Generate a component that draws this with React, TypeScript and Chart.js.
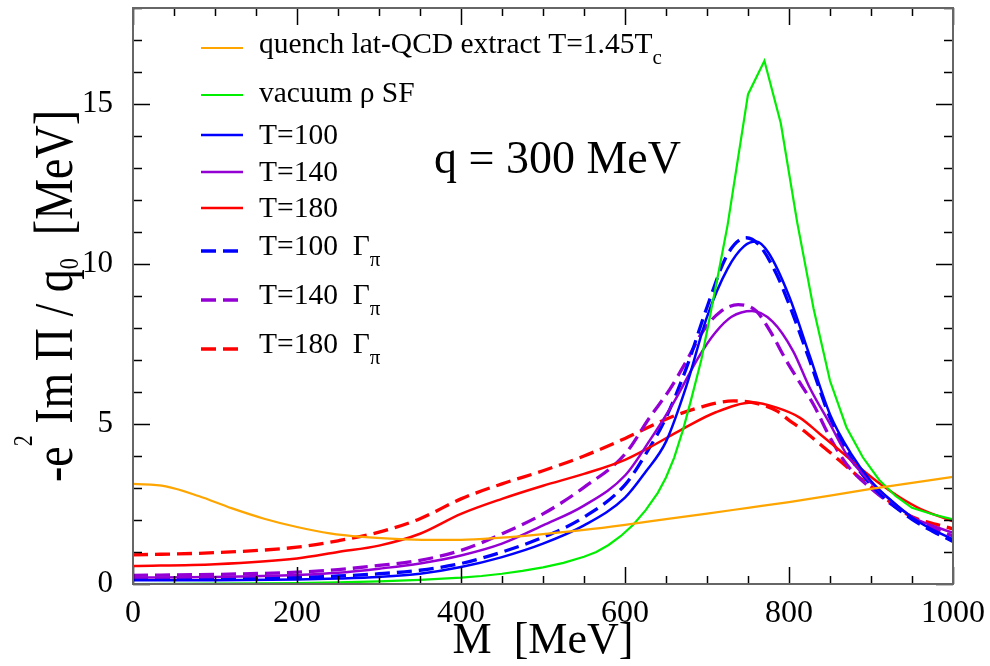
import React, { useEffect, useRef } from "react";
import { Chart, registerables } from "chart.js";

Chart.register(...registerables);

const SERIF = '"Liberation Serif", "Times New Roman", Times, serif';

// ---- data (M in MeV, value in MeV) ----
const mQuench = [0, 40, 80, 120, 160, 200, 240, 280, 320, 360, 400, 450, 500, 550, 600, 650, 700, 750, 800, 850, 900, 950, 1000];
const vQuench = [3.13, 3.05, 2.75, 2.37, 2.04, 1.78, 1.58, 1.47, 1.41, 1.38, 1.38, 1.45, 1.56, 1.69, 1.85, 2.03, 2.2, 2.38, 2.56, 2.76, 2.97, 3.16, 3.35];

const mVac = [0, 100, 200, 250, 300, 350, 400, 425, 450, 475, 500, 525, 550, 565, 580, 595, 610, 625, 640, 650, 660, 671, 680, 693, 700, 712, 725, 750, 770, 790, 810, 830, 850, 870, 890, 910, 930, 950, 975, 1000];
const vVac = [0, 0.01, 0.03, 0.05, 0.08, 0.13, 0.2, 0.25, 0.32, 0.41, 0.52, 0.66, 0.85, 1.0, 1.22, 1.5, 1.85, 2.3, 2.85, 3.33, 3.95, 4.84, 5.7, 7.0, 7.9, 9.46, 11.2, 15.3, 16.35, 14.4, 11.3, 8.6, 6.35, 4.9, 3.96, 3.25, 2.75, 2.38, 2.18, 2.02];

const m100 = [0, 100, 200, 250, 300, 350, 400, 450, 500, 550, 600, 625, 650, 675, 700, 725, 745, 760, 775, 800, 825, 850, 875, 900, 925, 950, 975, 1000];
const v100 = [0.12, 0.12, 0.14, 0.17, 0.22, 0.32, 0.53, 0.84, 1.26, 1.83, 2.7, 3.5, 4.45, 6.2, 8.35, 9.85, 10.55, 10.7, 10.35, 9.0, 7.15, 5.3, 4.1, 3.22, 2.6, 2.08, 1.7, 1.4];

const m140 = [0, 100, 200, 250, 300, 350, 400, 450, 500, 550, 600, 630, 660, 690, 710, 730, 755, 780, 805, 825, 850, 870, 895, 920, 950, 975, 1000];
const v140 = [0.2, 0.22, 0.28, 0.35, 0.48, 0.64, 0.89, 1.26, 1.83, 2.45, 3.39, 4.48, 5.7, 7.1, 7.85, 8.35, 8.53, 8.2, 7.28, 6.15, 5.0, 4.06, 3.3, 2.7, 2.1, 1.82, 1.6];

const m180 = [0, 100, 200, 250, 300, 350, 400, 450, 500, 550, 600, 630, 670, 710, 756, 785, 813, 838, 862, 886, 911, 935, 960, 1000];
const v180 = [0.56, 0.62, 0.8, 1.0, 1.2, 1.57, 2.19, 2.66, 3.07, 3.44, 3.88, 4.27, 4.84, 5.36, 5.67, 5.51, 5.2, 4.68, 4.17, 3.64, 3.13, 2.71, 2.35, 1.96];

const m100G = [0, 100, 200, 250, 300, 350, 400, 450, 500, 550, 600, 625, 650, 675, 700, 725, 748, 765, 785, 800, 825, 850, 875, 900, 925, 950, 975, 1000];
const v100G = [0.17, 0.18, 0.21, 0.25, 0.32, 0.43, 0.64, 1.0, 1.46, 2.09, 3.1, 4.05, 5.2, 6.76, 8.65, 10.3, 10.82, 10.55, 9.67, 8.75, 7.0, 5.2, 3.95, 3.1, 2.5, 2.02, 1.65, 1.33];

const m140G = [0, 100, 200, 250, 300, 350, 400, 450, 500, 550, 600, 630, 655, 675, 695, 716, 738, 760, 777, 797, 813, 830, 850, 870, 903, 943, 975, 1000];
const v140G = [0.27, 0.3, 0.37, 0.45, 0.58, 0.74, 1.05, 1.57, 2.19, 3.02, 4.06, 5.2, 6.1, 6.97, 7.9, 8.5, 8.73, 8.53, 7.9, 6.97, 6.3, 5.6, 4.58, 3.75, 2.92, 2.19, 1.75, 1.5];

const m180G = [0, 100, 200, 250, 300, 350, 400, 450, 500, 550, 600, 650, 690, 732, 756, 785, 801, 813, 838, 862, 886, 911, 943, 1000];
const v180G = [0.91, 0.98, 1.15, 1.35, 1.62, 2.04, 2.66, 3.13, 3.54, 4.0, 4.55, 5.15, 5.51, 5.72, 5.67, 5.41, 5.1, 4.89, 4.37, 3.85, 3.33, 2.82, 2.19, 1.72];

const xTicks = [0, 200, 400, 600, 800, 1000];
const yTicks = [0, 5, 10, 15];

// legend labels: main text + optional subscript
const seriesNames = ["quench lat-QCD extract T=1.45T", "vacuum ρ SF", "T=100", "T=140", "T=180", "T=100  Γ", "T=140  Γ", "T=180  Γ"];
const seriesSubs = ["c", "", "", "", "", "π", "π", "π"];

const annotationText = "q = 300 MeV";
const xTitle = "M  [MeV]";
const yTitleParts = [
  { t: "-e", m: "" },
  { t: "2", m: "sup" },
  { t: " Im Π / q", m: "" },
  { t: "0", m: "sub" },
  { t: "  [MeV]", m: "" },
];

// ---- styles ----
const seriesM = [mQuench, mVac, m100, m140, m180, m100G, m140G, m180G];
const seriesV = [vQuench, vVac, v100, v140, v180, v100G, v140G, v180G];
const seriesColors = ["#ffa500", "#00ee00", "#0000ff", "#9400d3", "#ff0000", "#0000ff", "#9400d3", "#ff0000"];
const seriesDash: number[][] = [[], [], [], [], [], [15, 7], [15, 7], [15, 7]];
const seriesWidth = [2.2, 2.2, 2.5, 2.5, 2.5, 3.3, 3.3, 3.3];
const seriesSmooth = [true, false, true, true, true, true, true, true];

// legend layout (offsets from chart area top)
const LEG_LINE_X0 = 68;
const LEG_LINE_X1 = 110;
const LEG_TEXT_X = 126;
const LEG_LINE_DY = [40, 87, 127, 164, 200, 243, 292, 341];
const LEG_TEXT_DY = [45, 94, 136, 173, 209, 247, 296, 345];

function drawParts(ctx: CanvasRenderingContext2D, x: number, y: number, parts: { t: string; m: string }[], size: number, smallSize: number, subDy: number, supDy: number, draw = true) {
  let cx = x;
  for (const p of parts) {
    const sz = p.m ? smallSize : size;
    ctx.font = `${sz}px ${SERIF}`;
    const dy = p.m === "sub" ? subDy : p.m === "sup" ? -supDy : 0;
    if (draw) ctx.fillText(p.t, cx, y + dy);
    cx += ctx.measureText(p.t).width;
  }
  return cx - x;
}

const decorPlugin = {
  id: "decor",
  afterDraw(chart: any) {
    const { ctx, chartArea: a, scales } = chart;
    const xs = scales.x;
    const ys = scales.y;
    ctx.save();
    // inward ticks on all four sides
    ctx.strokeStyle = "#000";
    ctx.lineWidth = 1.5;
    const seg = (x0: number, y0: number, x1: number, y1: number) => {
      ctx.beginPath();
      ctx.moveTo(x0, y0);
      ctx.lineTo(x1, y1);
      ctx.stroke();
    };
    for (let v = 0; v <= 1000; v += 50) {
      const px = Math.round(xs.getPixelForValue(v)) + 0.5;
      const len = v % 200 === 0 ? 17 : 8;
      seg(px, a.bottom, px, a.bottom - len);
      seg(px, a.top, px, a.top + len);
    }
    for (let v = 0; v <= 18; v += 1) {
      const py = Math.round(ys.getPixelForValue(v)) + 0.5;
      const len = v % 5 === 0 ? 17 : 9;
      seg(a.left, py, a.left + len, py);
      seg(a.right, py, a.right - len, py);
    }
    // frame
    ctx.strokeStyle = "#666";
    ctx.lineWidth = 2;
    ctx.strokeRect(a.left, a.top, a.right - a.left, a.bottom - a.top);

    // legend
    ctx.fillStyle = "#000";
    ctx.textBaseline = "alphabetic";
    ctx.textAlign = "left";
    chart.data.datasets.forEach((ds: any, i: number) => {
      const ly = a.top + LEG_LINE_DY[i];
      ctx.save();
      ctx.strokeStyle = ds.borderColor;
      ctx.lineWidth = ds.borderWidth;
      ctx.setLineDash(ds.borderDash || []);
      ctx.beginPath();
      ctx.moveTo(a.left + LEG_LINE_X0, ly);
      ctx.lineTo(a.left + LEG_LINE_X1, ly);
      ctx.stroke();
      ctx.restore();
      const parts = [{ t: seriesNames[i], m: "" }];
      if (seriesSubs[i]) parts.push({ t: seriesSubs[i], m: "sub" });
      drawParts(ctx, a.left + LEG_TEXT_X, a.top + LEG_TEXT_DY[i], parts, 29.5, 21, 11, 0);
    });

    // annotation
    ctx.font = `46px ${SERIF}`;
    ctx.fillText(annotationText, a.left + 301, a.top + 165);

    // x title
    ctx.textAlign = "center";
    ctx.font = `44px ${SERIF}`;
    ctx.fillText(xTitle, (a.left + a.right) / 2, 653);

    // y title (glyphs slightly stretched like the reference)
    ctx.textAlign = "left";
    const w = drawParts(ctx, 0, 0, yTitleParts, 46, 22, 5, 33, false);
    ctx.save();
    ctx.translate(72, (a.top + a.bottom) / 2);
    ctx.rotate(-Math.PI / 2);
    ctx.scale(1, 1.2);
    drawParts(ctx, -w / 2, 0, yTitleParts, 46, 22, 5, 33, true);
    ctx.restore();

    ctx.restore();
  },
};

export default function App() {
  const ref = useRef<HTMLCanvasElement>(null);
  useEffect(() => {
    const canvas = ref.current!;
    const datasets = seriesM.map((ms, i) => ({
      label: seriesNames[i] + seriesSubs[i],
      data: ms.map((m, j) => ({ x: m, y: seriesV[i][j] })),
      borderColor: seriesColors[i],
      backgroundColor: seriesColors[i],
      borderWidth: seriesWidth[i],
      borderDash: seriesDash[i],
      pointRadius: 0,
      fill: false,
      tension: seriesSmooth[i] ? 0.4 : 0,
      cubicInterpolationMode: seriesSmooth[i] ? "monotone" : "default",
    }));
    const chart = new Chart(canvas, {
      type: "line",
      data: { datasets } as any,
      options: {
        animation: false,
        responsive: false,
        layout: { padding: { top: 8, right: 37, left: 0, bottom: 0 } },
        plugins: { legend: { display: false }, tooltip: { enabled: false } },
        elements: { point: { radius: 0 } },
        scales: {
          x: {
            type: "linear",
            min: 0,
            max: 1000,
            grid: { display: false },
            border: { display: false },
            afterBuildTicks: (s: any) => {
              s.ticks = xTicks.map((v) => ({ value: v }));
            },
            afterFit: (s: any) => {
              s.height = 82;
              s.paddingLeft = 0;
              s.paddingRight = 0;
            },
            ticks: {
              font: { family: SERIF, size: 32 },
              color: "#000",
              padding: 2,
              maxRotation: 0,
              autoSkip: false,
              callback: (v: any) => String(v),
            },
          },
          y: {
            type: "linear",
            min: 0,
            max: 18,
            grid: { display: false },
            border: { display: false },
            afterBuildTicks: (s: any) => {
              s.ticks = yTicks.map((v) => ({ value: v }));
            },
            afterFit: (s: any) => {
              s.width = 133;
              s.paddingTop = 0;
              s.paddingBottom = 0;
            },
            ticks: {
              font: { family: SERIF, size: 31 },
              color: "#000",
              padding: 12,
              autoSkip: false,
              callback: (v: any) => String(v),
            },
          },
        },
      } as any,
      plugins: [decorPlugin],
    });
    return () => chart.destroy();
  }, []);
  return (
    <div style={{ position: "fixed", left: 0, top: 0, width: 990, height: 666, background: "#fff" }}>
      <canvas ref={ref} width={990} height={666} style={{ display: "block", width: 990, height: 666 }} />
    </div>
  );
}
